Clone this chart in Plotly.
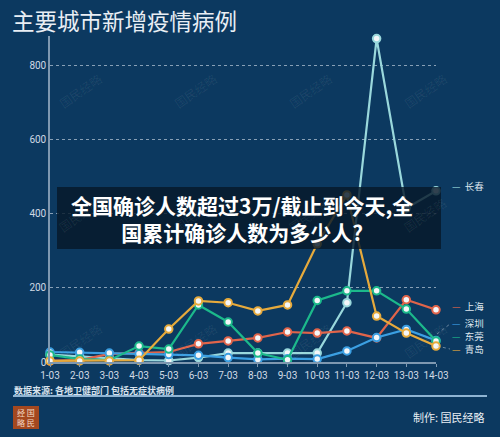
import plotly.graph_objects as go

dates = ['1-03', '2-03', '3-03', '4-03', '5-03', '6-03', '7-03',
         '8-03', '9-03', '10-03', '11-03', '12-03', '13-03', '14-03']

cities = ['长春', '上海', '深圳', '东莞', '青岛']
changchun = [20, 15, 10, 5, 4, 12, 24, 24, 24, 24, 160, 873, 415, 462]
shanghai = [3, 5, 22, 24, 27, 49, 57, 65, 81, 78, 84, 65, 168, 141]
shenzhen = [27, 26, 24, 22, 20, 18, 12, 7, 9, 8, 30, 66, 88, 58]
dongguan = [19, 8, 5, 43, 35, 154, 108, 24, 6, 166, 192, 192, 143, 57]
qingdao = [3, 3, 3, 5, 89, 165, 160, 138, 154, 319, 451, 124, 78, 43]

series = [changchun, shanghai, shenzhen, dongguan, qingdao]
colors = ['#9ad8dc', '#e0644a', '#3b9fe2', '#1cb98b', '#e6aa3c']
# y (data units) where each right-hand label sits
label_y = [476, 151, 106, 71, 36]

BG = '#0c3960'

# plot area in pixels: x 50..436, y 36..362
L, R, T, B = 50, 64, 36, 75
PW, PH = 500 - L - R, 437 - T - B


def px(x):
    return (x - L) / PW


def py(y):
    return (437 - B - y) / PH


fig = go.Figure()
for name, vals, col in zip(cities, series, colors):
    fig.add_trace(go.Scatter(
        x=dates, y=vals, name=name, mode='lines+markers',
        line=dict(color=col, width=2.2),
        marker=dict(size=7.5, color='#f4f6f8', line=dict(color=col, width=2)),
        cliponaxis=False, showlegend=False))


def note(x, y, text, size, color, xanchor='left', **kw):
    return dict(x=px(x), y=py(y), xref='paper', yref='paper', text=text,
                showarrow=False, xanchor=xanchor, yanchor='middle',
                font=dict(color=color, size=size, family='Noto Sans CJK SC'),
                **kw)


anns = []
for name, ly, col in zip(cities, label_y, colors):
    anns.append(dict(x=px(451), y=ly, xref='paper', yref='y',
                     text=f"<span style='color:{col}'>—</span>  {name}",
                     showarrow=False, xanchor='left', yanchor='middle',
                     borderpad=0,
                     font=dict(color='#dfe7ef', size=9.5,
                               family='Noto Sans CJK SC')))

# faint watermarks
for wy in [90, 215, 340]:
    for wx in [80, 195, 310, 425]:
        anns.append(note(wx, wy, '国民经略', 12, 'rgba(255,255,255,0.07)',
                         xanchor='center', textangle=-35))

# overlay banner text
anns.append(note(242, 218,
                 '<b>全国确诊人数超过3万/截止到今天,全<br>国累计确诊人数为多少人?</b>',
                 21, 'white', xanchor='center', align='center'))

# footer
anns.append(note(12, 390, '<b>数据来源: 各地卫健部门 包括无症状病例</b>', 9, '#d8e2ec'))
anns.append(note(26, 417, '经 国<br>略 民', 8, '#f3d9c4', xanchor='center'))
anns.append(note(487, 417, '制作: 国民经略', 11, '#e8eef4', xanchor='right'))

shapes = [
    dict(type='rect', xref='paper', yref='paper', layer='above',
         x0=px(57), x1=px(441), y0=py(249), y1=py(187),
         fillcolor='rgba(6,24,42,0.82)', line=dict(width=0)),
    dict(type='line', xref='paper', yref='paper',
         x0=px(13), x1=px(487), y0=py(396), y1=py(396),
         line=dict(color='#8fb4d3', width=2)),
    dict(type='rect', xref='paper', yref='paper',
         x0=px(13), x1=px(39), y0=py(429), y1=py(406),
         fillcolor='#a4481f', line=dict(width=0)),
    dict(type='line', xref='paper', yref='paper',
         x0=px(437), x1=px(450), y0=py(334), y1=py(324),
         line=dict(color='rgba(200,210,220,0.5)', width=1, dash='dot')),
    dict(type='line', xref='paper', yref='paper',
         x0=px(437), x1=px(450), y0=py(346), y1=py(349),
         line=dict(color='rgba(200,210,220,0.5)', width=1, dash='dot')),
]

fig.update_layout(
    width=500, height=437,
    margin=dict(l=L, r=R, t=T, b=B),
    paper_bgcolor=BG, plot_bgcolor=BG,
    title=dict(text='主要城市新增疫情病例', x=12 / 500, xanchor='left',
               y=1 - 22 / 437, yanchor='middle',
               font=dict(color='#e9eef4', size=22.5, family='Noto Sans CJK SC')),
    xaxis=dict(type='category', range=[0, 13], showgrid=False,
               showline=True, linecolor='#7f98b0', linewidth=1.5,
               ticks='outside', ticklen=3, tickcolor='#7f98b0',
               tickfont=dict(color='#d0dae4', size=10, family='Roboto'),
               zeroline=False, fixedrange=True),
    yaxis=dict(range=[0, 880], tickvals=[0, 200, 400, 600, 800],
               showgrid=True, gridcolor='rgba(220,230,240,0.6)',
               griddash='dot', gridwidth=1,
               showline=True, linecolor='#7f98b0', linewidth=1.5,
               tickfont=dict(color='#d0dae4', size=10, family='Roboto'),
               zeroline=False, ticks=''),
    annotations=anns, shapes=shapes,
)

fig.write_html('out.html', config={'displayModeBar': False},
               post_script="document.body.style.margin='0';")
